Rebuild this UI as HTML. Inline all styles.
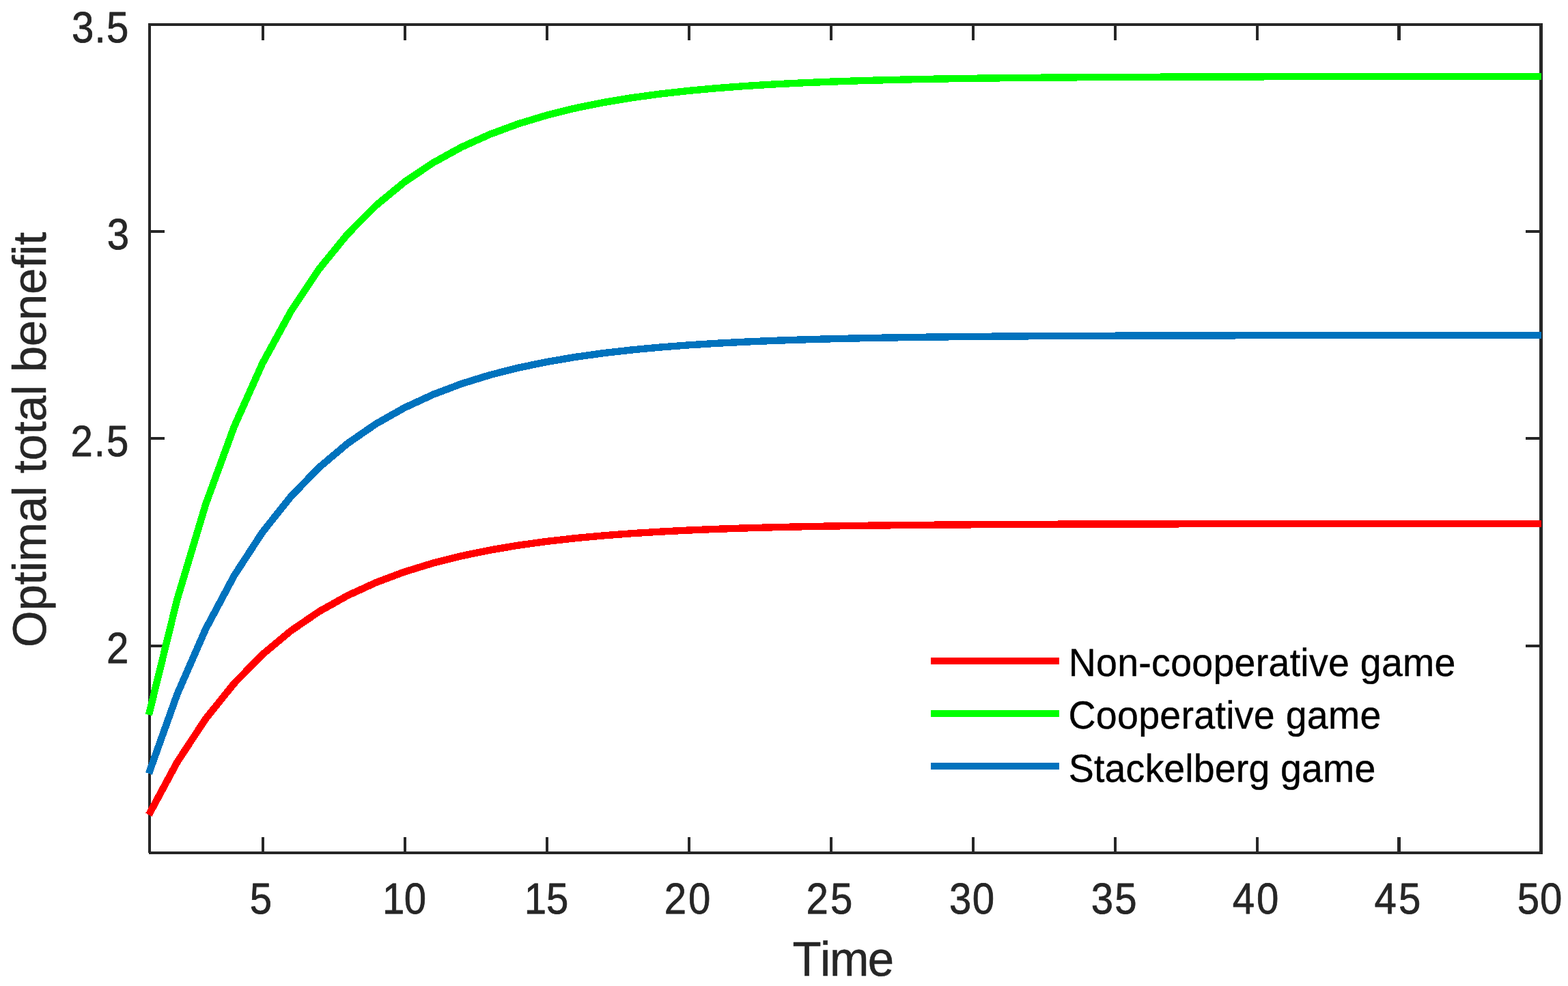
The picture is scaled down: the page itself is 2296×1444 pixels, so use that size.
<!DOCTYPE html>
<html lang="en"><head><meta charset="utf-8"><title>Optimal total benefit over time</title>
<style>
html,body{margin:0;padding:0;background:#ffffff;}
body{width:2296px;height:1444px;}
svg{display:block;}
text{font-family:"Liberation Sans",sans-serif;white-space:pre;text-rendering:geometricPrecision;}
.tick{font-size:58.2px;fill:#262626;stroke:#262626;stroke-width:0.7px;stroke-linejoin:round;}
.lab{font-size:69px;fill:#262626;stroke:#262626;stroke-width:0.5px;stroke-linejoin:round;}
.leg{font-size:55.5px;fill:#000000;stroke:#000000;stroke-width:0.4px;stroke-linejoin:round;}
</style></head><body>
<svg width="2296" height="1444" viewBox="0 0 2296 1444">
<rect x="0" y="0" width="2296" height="1444" fill="#ffffff"/>
<g fill="#262626" shape-rendering="crispEdges">
<rect x="217" y="34" width="2042" height="4"/>
<rect x="218" y="1247" width="2041" height="4"/>
<rect x="217" y="34" width="4" height="1215"/>
<rect x="2254" y="34" width="5" height="1217"/>
<rect x="383" y="1226" width="4" height="22"/>
<rect x="383" y="37" width="4" height="22"/>
<rect x="591" y="1226" width="4" height="22"/>
<rect x="591" y="37" width="4" height="22"/>
<rect x="799" y="1226" width="4" height="22"/>
<rect x="799" y="37" width="4" height="22"/>
<rect x="1007" y="1226" width="4" height="22"/>
<rect x="1007" y="37" width="4" height="22"/>
<rect x="1215" y="1226" width="4" height="22"/>
<rect x="1215" y="37" width="4" height="22"/>
<rect x="1423" y="1226" width="4" height="22"/>
<rect x="1423" y="37" width="4" height="22"/>
<rect x="1631" y="1226" width="4" height="22"/>
<rect x="1631" y="37" width="4" height="22"/>
<rect x="1839" y="1226" width="4" height="22"/>
<rect x="1839" y="37" width="4" height="22"/>
<rect x="2046" y="1226" width="5" height="22"/>
<rect x="2046" y="37" width="5" height="22"/>
<rect x="220" y="337" width="21" height="4"/>
<rect x="2234" y="337" width="21" height="4"/>
<rect x="220" y="640" width="21" height="4"/>
<rect x="2234" y="640" width="21" height="4"/>
<rect x="220" y="944" width="21" height="4"/>
<rect x="2234" y="944" width="21" height="4"/>
</g>
<g fill="none" stroke-width="10.4" stroke-linejoin="round" stroke-linecap="butt" shape-rendering="crispEdges">
<polyline stroke="#ff0000" points="217.90,1193.30 259.51,1116.02 301.12,1052.76 342.73,1000.96 384.34,958.55 425.95,923.83 467.56,895.40 509.17,872.12 550.78,853.07 592.39,837.47 634.00,824.69 675.61,814.24 717.22,805.67 758.83,798.66 800.44,792.92 842.05,788.22 883.66,784.38 925.27,781.23 966.88,778.65 1008.49,776.54 1050.10,774.81 1091.71,773.39 1133.32,772.23 1174.93,771.29 1216.54,770.51 1258.15,769.87 1299.76,769.35 1341.37,768.93 1382.98,768.58 1424.59,768.29 1466.20,768.06 1507.81,767.87 1549.42,767.71 1591.03,767.58 1632.64,767.47 1674.25,767.39 1715.86,767.32 1757.47,767.26 1799.08,767.21 1840.69,767.17 1882.30,767.14 1923.91,767.12 1965.52,767.10 2007.13,767.08 2048.74,767.06 2090.35,767.05 2131.96,767.04 2173.57,767.04 2215.18,767.03 2256.79,767.02"/>
<polyline stroke="#00ff00" points="217.90,1047.00 259.51,877.50 301.12,738.73 342.73,625.12 384.34,532.10 425.95,455.94 467.56,393.58 509.17,342.53 550.78,300.73 592.39,266.51 634.00,238.50 675.61,215.56 717.22,196.78 758.83,181.40 800.44,168.81 842.05,158.50 883.66,150.06 925.27,143.16 966.88,137.50 1008.49,132.87 1050.10,129.08 1091.71,125.97 1133.32,123.43 1174.93,121.35 1216.54,119.65 1258.15,118.25 1299.76,117.11 1341.37,116.17 1382.98,115.41 1424.59,114.78 1466.20,114.27 1507.81,113.85 1549.42,113.50 1591.03,113.22 1632.64,112.99 1674.25,112.80 1715.86,112.65 1757.47,112.52 1799.08,112.42 1840.69,112.33 1882.30,112.26 1923.91,112.21 1965.52,112.16 2007.13,112.12 2048.74,112.09 2090.35,112.07 2131.96,112.04 2173.57,112.03 2215.18,112.01 2256.79,112.00"/>
<polyline stroke="#0072bd" points="217.90,1132.90 259.51,1016.54 301.12,921.28 342.73,843.28 384.34,779.42 425.95,727.14 467.56,684.34 509.17,649.29 550.78,620.60 592.39,597.11 634.00,577.87 675.61,562.12 717.22,549.23 758.83,538.68 800.44,530.03 842.05,522.96 883.66,517.17 925.27,512.42 966.88,508.54 1008.49,505.36 1050.10,502.76 1091.71,500.63 1133.32,498.88 1174.93,497.45 1216.54,496.28 1258.15,495.33 1299.76,494.54 1341.37,493.90 1382.98,493.37 1424.59,492.94 1466.20,492.59 1507.81,492.30 1549.42,492.07 1591.03,491.87 1632.64,491.71 1674.25,491.59 1715.86,491.48 1757.47,491.39 1799.08,491.32 1840.69,491.26 1882.30,491.22 1923.91,491.18 1965.52,491.14 2007.13,491.12 2048.74,491.10 2090.35,491.08 2131.96,491.06 2173.57,491.05 2215.18,491.04 2256.79,491.04"/>
</g>
<g shape-rendering="crispEdges">
<rect x="1363" y="963" width="188" height="10" fill="#ff0000"/>
<rect x="1363" y="1040" width="188" height="10" fill="#00ff00"/>
<rect x="1363" y="1117" width="188" height="10" fill="#0072bd"/>
</g>
<text class="leg" transform="translate(1564.69 990.05) scale(1 1.0300)" letter-spacing="0.280">Non-cooperative game</text>
<text class="leg" transform="translate(1564.49 1067.05) scale(1 1.0300)" letter-spacing="0.291">Cooperative game</text>
<text class="leg" transform="translate(1564.74 1145.05) scale(1 1.0300)" letter-spacing="0.151">Stackelberg game</text>
<text class="tick" transform="translate(365.82 1338.00) scale(1 1.1000)" letter-spacing="0.000">5</text>
<text class="tick" transform="translate(560.00 1338.00) scale(1 1.1000)" letter-spacing="-0.660">10</text>
<text class="tick" transform="translate(767.80 1338.00) scale(1 1.1000)" letter-spacing="-0.250">15</text>
<text class="tick" transform="translate(972.80 1338.00) scale(1 1.1000)" letter-spacing="2.750">20</text>
<text class="tick" transform="translate(1180.50 1338.00) scale(1 1.1000)" letter-spacing="3.200">25</text>
<text class="tick" transform="translate(1390.10 1338.00) scale(1 1.1000)" letter-spacing="1.400">30</text>
<text class="tick" transform="translate(1597.80 1338.00) scale(1 1.1000)" letter-spacing="2.100">35</text>
<text class="tick" transform="translate(1804.80 1338.00) scale(1 1.1000)" letter-spacing="2.900">40</text>
<text class="tick" transform="translate(2012.60 1338.00) scale(1 1.1000)" letter-spacing="3.050">45</text>
<text class="tick" transform="translate(2221.80 1338.00) scale(1 1.1000)" letter-spacing="0.800">50</text>
<text class="tick" transform="translate(104.88 62.20) scale(1 1.1000)" letter-spacing="1.265">3.5</text>
<text class="tick" transform="translate(156.86 365.20) scale(1 1.1000)" letter-spacing="0.000">3</text>
<text class="tick" transform="translate(103.40 668.00) scale(1 1.1000)" letter-spacing="1.985">2.5</text>
<text class="tick" transform="translate(155.88 970.60) scale(1 1.1000)" letter-spacing="0.000">2</text>
<text class="lab" transform="translate(1160.55 1428.80) scale(1 1.0300)" letter-spacing="-0.767" dx="0 1.5 -0.5 -1">Time</text>
<text class="lab" transform="translate(66.85 948.00) rotate(-90)" letter-spacing="-0.275">Optimal total benefit</text>
</svg>
</body></html>
